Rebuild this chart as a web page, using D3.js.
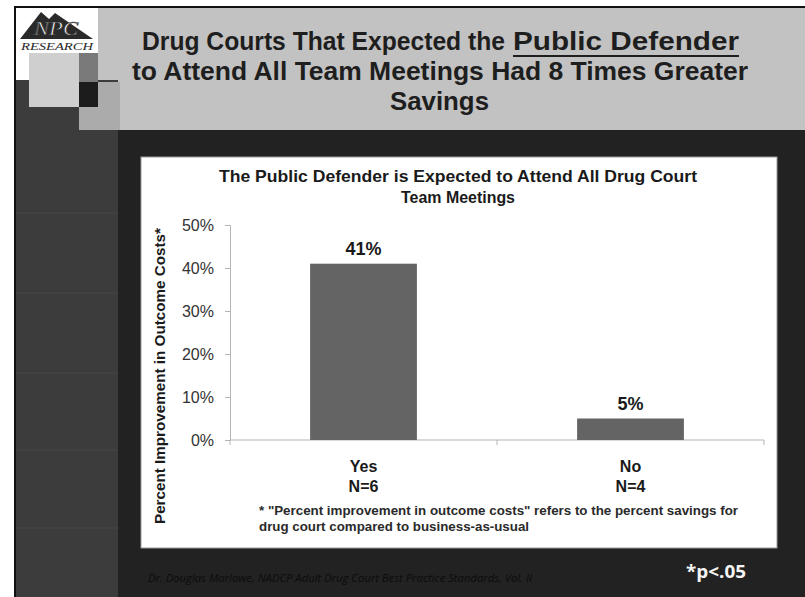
<!DOCTYPE html>
<html>
<head>
<meta charset="utf-8">
<script src="https://cdn.jsdelivr.net/npm/d3@7"></script>
<style>
  html, body { margin: 0; padding: 0; background: #ffffff; }
  svg { display: block; }
</style>
</head>
<body>
<svg id="slide" width="805" height="597"></svg>
<script>
// Chart data
const categories = ["Yes", "No"];
const sampleSizes = ["N=6", "N=4"];
const values = [41, 5];
const yTicks = [0, 10, 20, 30, 40, 50];
const titleLines = [
  "Drug Courts That Expected the",
  "Public Defender",
  "to Attend All Team Meetings Had 8 Times Greater",
  "Savings"
];
const chartTitleLines = [
  "The Public Defender is Expected to Attend All Drug Court",
  "Team Meetings"
];
const yAxisTitle = "Percent Improvement in Outcome Costs*";
const footnoteLines = [
  "* \"Percent improvement in outcome costs\" refers to the percent savings for",
  "drug court compared to business-as-usual"
];
const sourceText = "Dr. Douglas Marlowe, NADCP Adult Drug Court Best Practice Standards, Vol. II";
const significance = "*p<.05";

const svg = d3.select("#slide");
const sans = "'Liberation Sans', Arial, sans-serif";

// ---- Slide background ----
svg.append("rect").attr("x", 0).attr("y", 0).attr("width", 805).attr("height", 597).attr("fill", "#ffffff");
svg.append("rect").attr("x", 14).attr("y", 6).attr("width", 791).attr("height", 591).attr("fill", "#111111");
svg.append("rect").attr("x", 16).attr("y", 8).attr("width", 789).attr("height", 589).attr("fill", "#222222");

// Header band
svg.append("rect").attr("x", 98).attr("y", 8).attr("width", 707).attr("height", 122).attr("fill", "#c2c2c2");
// Logo area and decorative squares
svg.append("rect").attr("x", 16).attr("y", 8).attr("width", 82).attr("height", 72).attr("fill", "#ffffff");
svg.append("rect").attr("x", 16).attr("y", 80).attr("width", 102).attr("height", 517).attr("fill", "#3c3c3c");
svg.append("rect").attr("x", 79).attr("y", 82).attr("width", 41).attr("height", 48).attr("fill", "#ababab");
svg.append("rect").attr("x", 29).attr("y", 53).attr("width", 50).attr("height", 54).attr("fill", "#cfcfcf");
svg.append("rect").attr("x", 79).attr("y", 53).attr("width", 19).attr("height", 29).attr("fill", "#7a7a7a");
svg.append("rect").attr("x", 79).attr("y", 82).attr("width", 19).attr("height", 25).attr("fill", "#1c1c1c");

// Faint divisions in the left stripe
[213, 293, 373, 450, 528].forEach(y => {
  svg.append("line").attr("x1", 16).attr("x2", 118).attr("y1", y).attr("y2", y)
    .attr("stroke", "#474747").attr("stroke-width", 1);
});

// NPC Research logo
svg.append("path").attr("d", "M20,39 L41,12 L49,19 L55,13 L93,39 Z").attr("fill", "#2a2a2a");
svg.append("text").attr("x", 56).attr("y", 35).attr("text-anchor", "middle")
  .attr("font-family", "'Liberation Serif', serif").attr("font-style", "italic")
  .attr("font-size", 19).attr("fill", "#f2f2f2").attr("stroke", "#2a2a2a").attr("stroke-width", 0.6)
  .attr("textLength", 44).attr("lengthAdjust", "spacingAndGlyphs").text("NPC");
svg.append("text").attr("x", 57).attr("y", 50).attr("text-anchor", "middle")
  .attr("font-family", "'Liberation Serif', serif").attr("font-style", "italic")
  .attr("font-size", 10).attr("fill", "#2a2a2a")
  .attr("textLength", 72).attr("lengthAdjust", "spacingAndGlyphs").text("RESEARCH");

// ---- Slide title ----
const titleSpecs = [
  { x: 142, w: 363, y: 50 },
  { x: 513, w: 226, y: 50 },
  { x: 132, w: 616, y: 80 },
  { x: 390, w: 99, y: 110 }
];
titleLines.forEach((line, i) => {
  const s = titleSpecs[i];
  svg.append("text").attr("x", s.x).attr("y", s.y)
    .attr("font-family", sans).attr("font-weight", "bold").attr("font-size", 25)
    .attr("fill", "#1e1e1e").attr("textLength", s.w).attr("lengthAdjust", "spacingAndGlyphs")
    .text(line);
});
// underline under "Public Defender"
svg.append("line").attr("x1", 513).attr("x2", 739).attr("y1", 56).attr("y2", 56)
  .attr("stroke", "#1e1e1e").attr("stroke-width", 2);

// ---- Chart panel ----
svg.append("rect").attr("x", 141).attr("y", 157).attr("width", 636).attr("height", 391)
  .attr("fill", "#ffffff").attr("stroke", "#9a9a9a").attr("stroke-width", 1);

chartTitleLines.forEach((line, i) => {
  svg.append("text").attr("x", 458).attr("y", 182 + i * 21).attr("text-anchor", "middle")
    .attr("font-family", sans).attr("font-weight", "bold").attr("font-size", 17)
    .attr("fill", "#1a1a1a")
    .attr("textLength", i === 0 ? 478 : 114).attr("lengthAdjust", "spacingAndGlyphs")
    .text(line);
});

// Scales
const x = d3.scaleBand().domain(categories).range([230, 764]).paddingInner(0).paddingOuter(0);
const y = d3.scaleLinear().domain([0, 50]).range([440, 225]);
const barW = x.bandwidth() * 0.4;

// Y axis
const yAxis = d3.axisLeft(y).tickValues(yTicks).tickFormat(d => d + "%").tickSize(5).tickPadding(11);
const gy = svg.append("g").attr("transform", "translate(230,0)").call(yAxis);
gy.select(".domain").attr("stroke", "#b5b5b5");
gy.selectAll(".tick line").attr("stroke", "#b5b5b5");
gy.selectAll(".tick text").attr("font-family", sans).attr("font-size", 16).attr("fill", "#333333");

// X axis
const xAxis = d3.axisBottom(x).tickSize(0).tickFormat("");
const gx = svg.append("g").attr("transform", "translate(0,440)").call(xAxis);
gx.select(".domain").attr("stroke", "#b5b5b5").attr("d", "M230,0H764");
// tick marks on band boundaries
const boundaries = [x.range()[0], ...categories.slice(1).map(c => x(c)), x.range()[1]];
gx.selectAll("line.boundary").data(boundaries).enter().append("line")
  .attr("class", "boundary").attr("x1", d => d).attr("x2", d => d).attr("y1", 0).attr("y2", 5)
  .attr("stroke", "#b5b5b5");

// Bars
svg.selectAll("rect.bar").data(values).enter().append("rect")
  .attr("class", "bar")
  .attr("x", (d, i) => x(categories[i]) + (x.bandwidth() - barW) / 2)
  .attr("y", d => y(d))
  .attr("width", barW)
  .attr("height", d => y(0) - y(d))
  .attr("fill", "#646464");

// Value labels
svg.selectAll("text.val").data(values).enter().append("text")
  .attr("class", "val")
  .attr("x", (d, i) => x(categories[i]) + x.bandwidth() / 2)
  .attr("y", d => y(d) - 9)
  .attr("text-anchor", "middle")
  .attr("font-family", sans).attr("font-weight", "bold").attr("font-size", 18)
  .attr("fill", "#1a1a1a")
  .text(d => d + "%");

// Category labels
categories.forEach((c, i) => {
  const cx = x(c) + x.bandwidth() / 2;
  svg.append("text").attr("x", cx).attr("y", 472).attr("text-anchor", "middle")
    .attr("font-family", sans).attr("font-weight", "bold").attr("font-size", 16).attr("fill", "#1a1a1a")
    .text(c);
  svg.append("text").attr("x", cx).attr("y", 492).attr("text-anchor", "middle")
    .attr("font-family", sans).attr("font-weight", "bold").attr("font-size", 16).attr("fill", "#1a1a1a")
    .text(sampleSizes[i]);
});

// Y axis title
svg.append("text")
  .attr("transform", "translate(165,376) rotate(-90)")
  .attr("text-anchor", "middle")
  .attr("font-family", sans).attr("font-weight", "bold").attr("font-size", 14)
  .attr("fill", "#1a1a1a")
  .attr("textLength", 296).attr("lengthAdjust", "spacingAndGlyphs")
  .text(yAxisTitle);

// Footnote
footnoteLines.forEach((line, i) => {
  svg.append("text").attr("x", 259).attr("y", 515 + i * 16)
    .attr("font-family", sans).attr("font-weight", "bold").attr("font-size", 12.5)
    .attr("fill", "#2a2a2a")
    .attr("textLength", i === 0 ? 479 : 270).attr("lengthAdjust", "spacingAndGlyphs")
    .text(line);
});

// Source and significance
svg.append("text").attr("x", 148).attr("y", 582)
  .attr("font-family", "'Open Sans', sans-serif").attr("font-style", "italic").attr("font-size", 10.5)
  .attr("fill", "#0c0c0c")
  .attr("textLength", 384).attr("lengthAdjust", "spacingAndGlyphs")
  .text(sourceText);
svg.append("text").attr("x", 686).attr("y", 578)
  .attr("font-family", "'Open Sans', sans-serif").attr("font-weight", "bold").attr("font-size", 17)
  .attr("fill", "#f4f4f4")
  .attr("textLength", 60).attr("lengthAdjust", "spacingAndGlyphs")
  .text(significance);
</script>
</body>
</html>
